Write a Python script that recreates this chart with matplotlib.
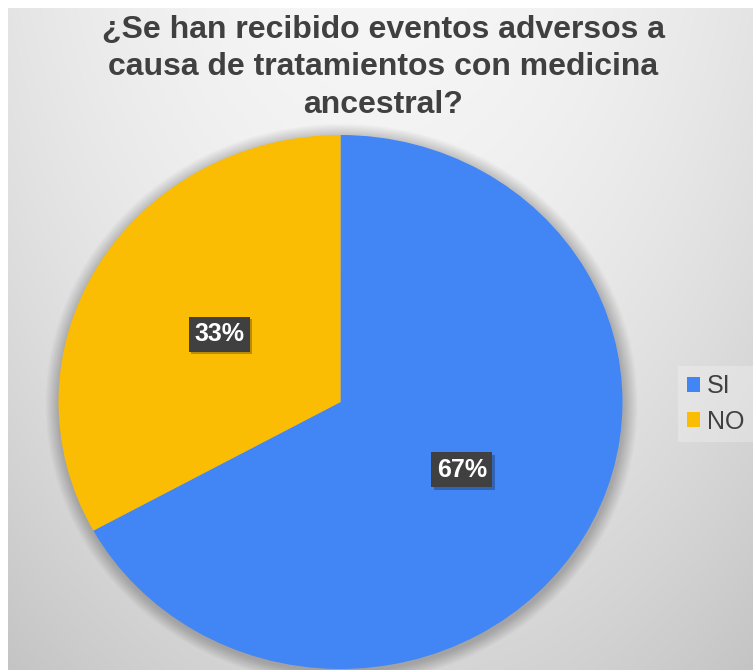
import numpy as np
import matplotlib
matplotlib.use('Agg')
import matplotlib.pyplot as plt
from matplotlib.patches import Ellipse, Patch
from matplotlib import patheffects

plt.rcParams['font.family'] = ['Liberation Sans', 'DejaVu Sans']

title = '¿Se han recibido eventos adversos a\ncausa de tratamientos con medicina\nancestral?'
labels = ['SI', 'NO']
values = [67, 33]
colors = ['#4285f4', '#fbbc04']
text_color = '#404040'

W, H = 753, 670
fig = plt.figure(figsize=(W / 100, H / 100), dpi=100)
fig.patch.set_facecolor('white')

# grey radial-ish background of the chart area
bg = fig.add_axes([8 / W, 0, (W - 8) / W, (H - 8) / H])
bg.set_axis_off()
xs = np.arange(8, W)
ys = np.arange(8, H)
xx, yy = np.meshgrid(xs, ys)
dx = (xx - 380) / 372.0
t = (yy - 8) / 660.0
shade = 246 - 18 * dx ** 2 - 12 * t - 20 * t ** 2
img = np.clip(shade, 0, 255) / 255.0
bg.imshow(np.dstack([img, img, img]), aspect='auto', interpolation='bilinear')

# pie axes, slightly wider than tall
cx, cy, rx, ry = 340.5, 402, 282, 267
ax = fig.add_axes([(cx - rx) / W, (H - cy - ry) / H, 2 * rx / W, 2 * ry / H])

# soft shadow under the pie
n = 18
for k in range(n):
    s = 1 + 0.0028 * (n - k)
    ax.add_patch(Ellipse((0.004, -0.008), 2 * s, 2 * s, facecolor='black',
                         edgecolor='none', alpha=0.011, clip_on=False, zorder=0))

wedges, texts, autotexts = ax.pie(values, colors=colors, startangle=90, counterclock=False,
                                  autopct='%1.0f%%', pctdistance=0.5, radius=1,
                                  wedgeprops=dict(linewidth=0),
                                  textprops=dict(color='white', fontsize=18, fontweight='bold'))
for w in wedges:
    w.set_zorder(2)
for at in autotexts:
    at.set_zorder(5)
    at.set_bbox(dict(boxstyle='square,pad=0.22', facecolor='#404040', edgecolor='none'))
    at.get_bbox_patch().set_path_effects([
        patheffects.withSimplePatchShadow(offset=(2, -2), shadow_rgbFace='black', alpha=0.25)])

ax.set_aspect('auto')
ax.set_xlim(-1, 1)
ax.set_ylim(-1, 1)
ax.set_axis_off()

fig.text(383 / W, 1 - 15 / H, title, ha='center', va='top', fontsize=23,
         fontweight='bold', color=text_color, linespacing=1.32)

handles = [Patch(facecolor=c, edgecolor='none') for c in colors]
leg = fig.legend(handles, labels, loc='center left', bbox_to_anchor=(678 / W, (H - 404) / H),
                 borderaxespad=0, frameon=True, fontsize=18, handlelength=0.52, handleheight=0.52,
                 handletextpad=0.3, labelspacing=0.45, borderpad=0.35, fancybox=False)
leg.get_frame().set_facecolor('white')
leg.get_frame().set_alpha(0.25)
leg.get_frame().set_linewidth(0)
for txt in leg.get_texts():
    txt.set_color(text_color)

fig.savefig('out.png', dpi=100)
